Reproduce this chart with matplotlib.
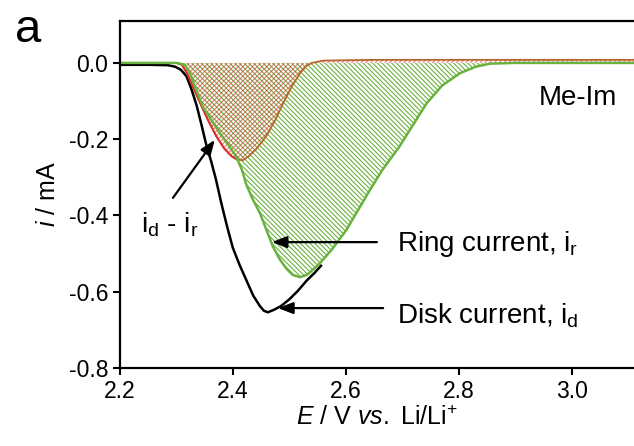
import matplotlib.pyplot as plt

plt.rcParams['font.family'] = 'Liberation Sans'
plt.rcParams['mathtext.fontset'] = 'custom'
plt.rcParams['mathtext.rm'] = 'Liberation Sans'
plt.rcParams['mathtext.it'] = 'Liberation Sans:italic'
plt.rcParams['hatch.linewidth'] = 0.8

# disk current (black)
E_disk = [2.20, 2.25, 2.285, 2.298, 2.308, 2.318, 2.327, 2.336, 2.345, 2.353, 2.362,
          2.370, 2.380, 2.390, 2.400, 2.412, 2.424, 2.436, 2.448, 2.455, 2.462, 2.472,
          2.485, 2.500, 2.515, 2.530, 2.545, 2.556]
i_disk = [-0.005, -0.005, -0.006, -0.010, -0.018, -0.035, -0.070, -0.112, -0.165, -0.215, -0.260,
          -0.305, -0.370, -0.430, -0.485, -0.530, -0.570, -0.610, -0.638, -0.650, -0.654, -0.648,
          -0.638, -0.620, -0.598, -0.572, -0.550, -0.532]

# ring current (green)
E_ring = [2.20, 2.30, 2.315, 2.325, 2.335, 2.347, 2.362, 2.377, 2.392, 2.406, 2.416,
          2.424, 2.436, 2.448, 2.460, 2.471, 2.483, 2.495, 2.506, 2.519, 2.532, 2.545,
          2.556, 2.575, 2.601, 2.620, 2.642, 2.665, 2.695, 2.720, 2.743, 2.770, 2.802,
          2.830, 2.855, 2.900, 3.11]
i_ring = [0.0, 0.0, -0.005, -0.030, -0.070, -0.115, -0.150, -0.184, -0.215, -0.246, -0.280,
          -0.320, -0.360, -0.394, -0.440, -0.482, -0.515, -0.540, -0.556, -0.562, -0.555, -0.538,
          -0.522, -0.490, -0.438, -0.390, -0.335, -0.280, -0.219, -0.160, -0.106, -0.060, -0.027,
          -0.010, -0.002, 0.0, 0.0]

# id - ir (red)
E_diff = [2.20, 2.30, 2.31, 2.32, 2.33, 2.342, 2.356, 2.371, 2.385, 2.398, 2.408,
          2.418, 2.428, 2.44, 2.45, 2.46, 2.475, 2.489, 2.505, 2.519, 2.53, 2.54,
          2.56, 2.65, 3.11]
i_diff = [0.0, 0.0, -0.005, -0.030, -0.065, -0.105, -0.150, -0.193, -0.225, -0.245, -0.254,
          -0.255, -0.245, -0.228, -0.210, -0.190, -0.150, -0.106, -0.060, -0.027, -0.008, 0.0,
          0.006, 0.008, 0.008]

green = '#6ab23e'
red = '#e3262b'
brown = '#b8652a'

fig = plt.figure(figsize=(6.34, 4.46), dpi=100)
ax = fig.add_axes([0.189, 0.175, 0.811, 0.778])

ax.fill_between(E_ring, i_ring, 0, facecolor='none', edgecolor=green, lw=0, hatch='\\' * 7)
ax.fill_between(E_diff, i_diff, 0, facecolor='none', edgecolor=red, lw=0, hatch='/' * 7, alpha=0.6)
ax.plot(E_disk, i_disk, color='black', lw=1.8)
ax.plot(E_diff, i_diff, color=brown, lw=1.3)
ax.plot(E_diff[:11], i_diff[:11], color=red, lw=1.3)
ax.plot(E_ring, i_ring, color=green, lw=1.8)

ax.set_xlim(2.2, 3.11)
ax.set_ylim(-0.8, 0.11)
ax.set_xticks([2.2, 2.4, 2.6, 2.8, 3.0])
ax.set_yticks([0.0, -0.2, -0.4, -0.6, -0.8])
ax.set_xticklabels(['2.2', '2.4', '2.6', '2.8', '3.0'])
ax.set_yticklabels(['0.0', '-0.2', '-0.4', '-0.6', '-0.8'])
ax.tick_params(labelsize=16.5, width=1.5, length=5, direction='out')
for s in ['left', 'bottom', 'top']:
    ax.spines[s].set_linewidth(1.6)
ax.spines['right'].set_visible(False)

ax.set_xlabel(r'$\it{E}$ / V $\it{vs.}$ Li/Li$^{+}$', fontsize=18, labelpad=2)
ax.set_ylabel(r'$\it{i}$ / mA', fontsize=18, labelpad=6)

ax.text(3.011, -0.092, 'Me-Im', fontsize=20, ha='center', va='center')
arrow = dict(arrowstyle='-|>,head_length=0.9,head_width=0.35', color='black', lw=1.6,
             shrinkA=0, shrinkB=0)
ax.annotate('', xy=(2.469, -0.470), xytext=(2.655, -0.470), arrowprops=arrow)
ax.annotate('', xy=(2.480, -0.643), xytext=(2.666, -0.643), arrowprops=arrow)
ax.annotate('', xy=(2.368, -0.202), xytext=(2.294, -0.354), arrowprops=arrow)
ax.text(2.690, -0.475, r'Ring current, i$_\mathrm{r}$', fontsize=20, ha='left', va='center')
ax.text(2.690, -0.662, r'Disk current, i$_\mathrm{d}$', fontsize=20, ha='left', va='center')
ax.text(2.288, -0.425, r'i$_\mathrm{d}$ - i$_\mathrm{r}$', fontsize=20, ha='center', va='center')

fig.text(0.044, 0.933, 'a', fontsize=34, ha='center', va='center')

fig.savefig('out.png', dpi=100)
